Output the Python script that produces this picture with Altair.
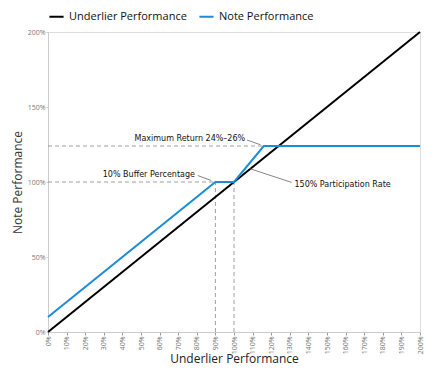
import altair as alt
import pandas as pd

under_x = [0, 200]
under_y = [0, 200]
note_x = [0, 90, 100, 116, 200]
note_y = [10, 100, 100, 124, 124]

guide_x = [0, 0, 90, 100]
guide_x2 = [116, 90, 90, 100]
guide_y = [124, 100, 0, 0]
guide_y2 = [124, 100, 100, 100]

ann_text = ["Maximum Return 24%–26%", "10% Buffer Percentage", "150% Participation Rate"]
ann_x = [106, 79, 132.5]
ann_y = [129, 105, 98]
ann_align = ["right", "right", "left"]
lead_x = [107, 80.5, 131]
lead_y = [128, 104.3, 99.7]
lead_x2 = [114.3, 87.8, 108.5]
lead_y2 = [124.8, 101, 108.9]

xticks = list(range(0, 201, 10))
yticks = [0, 50, 100, 150, 200]

lines = pd.DataFrame(
    [{"series": "Underlier Performance", "x": a, "y": b, "o": i} for i, (a, b) in enumerate(zip(under_x, under_y))]
    + [{"series": "Note Performance", "x": a, "y": b, "o": i} for i, (a, b) in enumerate(zip(note_x, note_y))]
)
guides = pd.DataFrame({"x": guide_x, "x2": guide_x2, "y": guide_y, "y2": guide_y2})
ann = pd.DataFrame({"t": ann_text, "x": ann_x, "y": ann_y, "a": ann_align})
leads = pd.DataFrame({"x": lead_x, "y": lead_y, "x2": lead_x2, "y2": lead_y2})

xs = alt.Scale(domain=[0, 200], nice=False)
ys = alt.Scale(domain=[0, 200], nice=False)

xaxis = alt.Axis(values=xticks, labelExpr="datum.value + '%'", labelAngle=-90, labelFontSize=7,
                 labelColor="#777", title="Underlier Performance", titleFontSize=12, titleFontWeight="normal",
                 titleColor="#222", grid=False, domainColor="#ccc", tickColor="#999", tickSize=3,
                 labelPadding=1, titlePadding=0, labelAlign="right", labelBaseline="middle",
                 labelOverlap=False, labelFlush=False)
yaxis = alt.Axis(values=yticks, labelExpr="datum.value + '%'", labelFontSize=7, labelColor="#777",
                 title="Note Performance", titleFontSize=12, titleFontWeight="normal", titleColor="#333",
                 grid=False, domainColor="#ccc", tickSize=2, tickColor="#ccc", titlePadding=3, labelPadding=1,
                 labelOverlap=False, labelFlush=False)


def X(f="x:Q"):
    return alt.X(f, scale=xs, axis=xaxis)


def Y(f="y:Q"):
    return alt.Y(f, scale=ys, axis=yaxis)


guide = alt.Chart(guides).mark_rule(strokeDash=[4, 3], color="#888", strokeWidth=0.8).encode(
    x=X(), x2="x2:Q", y=Y(), y2="y2:Q")

line = alt.Chart(lines).mark_line(strokeWidth=2).encode(
    x=X(), y=Y(), order="o:Q",
    color=alt.Color("series:N",
                    scale=alt.Scale(domain=["Underlier Performance", "Note Performance"],
                                    range=["#000000", "#1a8cd8"]),
                    legend=alt.Legend(orient="top", title=None, symbolType="stroke", symbolSize=200,
                                      symbolStrokeWidth=2, labelFontSize=11, labelColor="#111",
                                      columnPadding=8, symbolOffset=0, offset=6)))

lead = alt.Chart(leads).mark_rule(color="#666", strokeWidth=0.8).encode(
    x=X(), x2="x2:Q", y=Y(), y2="y2:Q")

txt_r = alt.Chart(ann[ann.a == "right"]).mark_text(align="right", baseline="middle", fontSize=8,
                                                   font="DejaVu Sans", color="#111").encode(
    x=X(), y=Y(), text="t:N")
txt_l = alt.Chart(ann[ann.a == "left"]).mark_text(align="left", baseline="middle", fontSize=8,
                                                  font="DejaVu Sans", color="#111").encode(
    x=X(), y=Y(), text="t:N")

chart = alt.layer(guide, line, lead, txt_r, txt_l).properties(
    width=428, height=358,
    autosize=alt.AutoSizeParams(type="fit", contains="padding"),
    padding={"left": 3, "top": 0, "right": 12, "bottom": 1}
).configure_view(stroke="#ccc", strokeWidth=1).configure(font="Open Sans")

chart.save("out.html", embed_options={"renderer": "svg", "actions": False})
